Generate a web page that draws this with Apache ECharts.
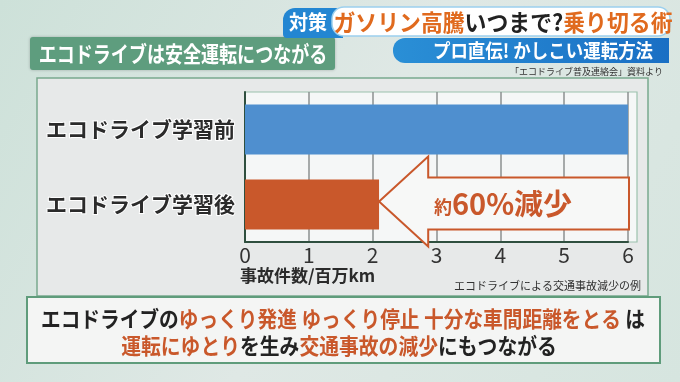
<!DOCTYPE html>
<html><head><meta charset="utf-8">
<script src="https://cdn.jsdelivr.net/npm/echarts@6/dist/echarts.min.js"></script>
<style>html,body{margin:0;padding:0;background:#dce7e3}#c{width:680px;height:382px}</style>
</head><body><div id="c"></div>
<script>
const categories = ['エコドライブ学習前', 'エコドライブ学習後'];
const values = [6.0, 2.1];
const xTicks = [0, 1, 2, 3, 4, 5, 6];
const barColors = ['#4f8fcf', '#c9582b'];
const arrowHeadValue = 2.87;

const FONT = '"Noto Sans CJK JP","Noto Sans",sans-serif';
const ORANGE = '#c9582b';
const chart = echarts.init(document.getElementById('c'), null, {renderer: 'canvas'});

const baseOption = {
  animation: false,
  backgroundColor: {
    type: 'linear', x: 0, y: 0, x2: 1, y2: 1,
    colorStops: [{offset: 0, color: '#cde1d9'}, {offset: 0.5, color: '#dfe8e5'}, {offset: 1, color: '#d6e5df'}]
  },
  grid: {left: 245, right: 52, top: 92, bottom: 140, containLabel: false},
  xAxis: {
    type: 'value', min: xTicks[0], max: xTicks[xTicks.length - 1], interval: 1,
    axisLine: {show: true, lineStyle: {color: '#2f4f3f', width: 2}},
    axisTick: {show: false},
    splitLine: {show: true, lineStyle: {color: '#8b9090', width: 1.5}},
    axisLabel: {color: '#333', fontSize: 21, fontFamily: FONT, margin: 3}
  },
  yAxis: {
    type: 'category', data: categories, inverse: true,
    axisLine: {show: true, lineStyle: {color: '#2f4f3f', width: 2}},
    axisTick: {show: false},
    axisLabel: {color: '#2b2b2b', fontSize: 21, fontWeight: 'bold', fontFamily: FONT, margin: 10,
      textBorderColor: '#ffffff', textBorderWidth: 2}
  },
  series: [{
    type: 'bar', barWidth: 50, z: 3,
    data: values.map((v, i) => ({value: v, itemStyle: {color: barColors[i]}}))
  }]
};
chart.setOption(baseOption);

const p = (v, c) => chart.convertToPixel({xAxisIndex: 0, yAxisIndex: 0}, [v, c]);
const x0 = p(0, 0)[0], x6 = p(6, 0)[0];
const yc1 = p(0, 1)[1] - 3;
const tipX = p(values[1], 1)[0];
const headX = p(arrowHeadValue, 1)[0];
const endX = x6 + 1;
const plotTop = 92, plotBot = 382 - 140;

function txt(x, y, sx, z, style) {
  return {type: 'text', x: x, y: y, scaleX: sx, z: z,
    style: Object.assign({x: 0, y: 0, align: 'center', verticalAlign: 'middle'}, style)};
}

chart.setOption({
  graphic: [
    {type: 'rect', z: -20, shape: {x: 37, y: 78, width: 611, height: 218},
      style: {fill: '#e7e9e9', stroke: '#7aa98e', lineWidth: 1.5}},
    {type: 'rect', z: -10, shape: {x: x0, y: plotTop, width: x6 - x0 + 9, height: plotBot - plotTop},
      style: {fill: '#f5f7f7', stroke: '#9cc2ad', lineWidth: 1.2}},
    {type: 'rect', z: 5, shape: {x: 27, y: 297, width: 633, height: 66},
      style: {fill: '#f4f5f4', stroke: '#5f9c7b', lineWidth: 2}},
    {type: 'rect', z: 5, shape: {x: 30, y: 37, width: 305, height: 33, r: 3},
      style: {fill: '#5e9d7e', shadowBlur: 3, shadowColor: 'rgba(0,0,0,0.25)'}},
    txt(183, 54, 0.82, 6, {text: 'エコドライブは安全運転につながる', fill: '#ffffff', font: 'bold 22px ' + FONT}),
    {type: 'rect', z: 5, shape: {x: 393, y: 38, width: 276, height: 25, r: [12, 0, 0, 12]},
      style: {fill: {type: 'linear', x: 0, y: 0, x2: 1, y2: 0,
        colorStops: [{offset: 0, color: '#2a8fd6'}, {offset: 1, color: '#1a6fc4'}]}}},
    txt(543, 51, 0.92, 6, {text: 'プロ直伝! かしこい運転方法', fill: '#ffffff', font: 'bold 19px ' + FONT}),
    {type: 'rect', z: 5, shape: {x: 283, y: 8, width: 60, height: 30, r: [12, 0, 0, 4]},
      style: {fill: '#2386d2'}},
    txt(308, 22, 0.95, 7, {text: '対策', fill: '#ffffff', font: 'bold 20px ' + FONT}),
    {type: 'rect', z: 6, shape: {x: 332, y: 7, width: 338, height: 29, r: 12},
      style: {fill: '#ffffff', stroke: '#9cd0ee', lineWidth: 1.5}},
    txt(503, 22, 0.95, 7, {text: '{o|ガソリン高騰}{k|いつまで?}{o|乗り切る術}',
      rich: {o: {fill: '#e06a1e', font: 'bold 23px ' + FONT},
             k: {fill: '#222222', font: 'bold 23px ' + FONT}}}),
    {type: 'text', z: 6, style: {x: 663, y: 72, text: '「エコドライブ普及連絡会」資料より', fill: '#333',
      font: '9px ' + FONT, align: 'right', verticalAlign: 'middle'}},
    {type: 'text', z: 6, style: {x: 240, y: 276, text: '事故件数/百万km', fill: '#2b2b2b',
      font: 'bold 17px ' + FONT, align: 'left', verticalAlign: 'middle'}},
    {type: 'text', z: 6, style: {x: 641, y: 286, text: 'エコドライブによる交通事故減少の例', fill: '#333',
      font: '11px ' + FONT, align: 'right', verticalAlign: 'middle'}},
    {type: 'polygon', z: 20, shape: {points: [
      [tipX, yc1], [headX, yc1 - 45], [headX, yc1 - 24], [endX, yc1 - 24],
      [endX, yc1 + 28], [headX, yc1 + 28], [headX, yc1 + 45]]},
      style: {fill: '#f7f8f7', stroke: ORANGE, lineWidth: 2}},
    txt(503, yc1 + 2, 1, 21, {text: '{a|約}{b|60%減少}',
      rich: {a: {fill: ORANGE, font: 'bold 18px ' + FONT, verticalAlign: 'bottom', padding: [0, 0, 2, 0]},
             b: {fill: ORANGE, font: 'bold 29px ' + FONT}}}),
    txt(343, 319, 0.895, 7, {
      text: '{k|エコドライブの}{o|ゆっくり発進 ゆっくり停止 十分な車間距離をとる}{k| は}',
      rich: {o: {fill: ORANGE, font: 'bold 22px ' + FONT}, k: {fill: '#222', font: 'bold 22px ' + FONT}}}),
    txt(339, 346, 0.9, 7, {
      text: '{o|運転にゆとり}{k|を生み}{o|交通事故の減少}{k|にもつながる}',
      rich: {o: {fill: ORANGE, font: 'bold 22px ' + FONT}, k: {fill: '#222', font: 'bold 22px ' + FONT}}})
  ]
});
</script></body></html>
